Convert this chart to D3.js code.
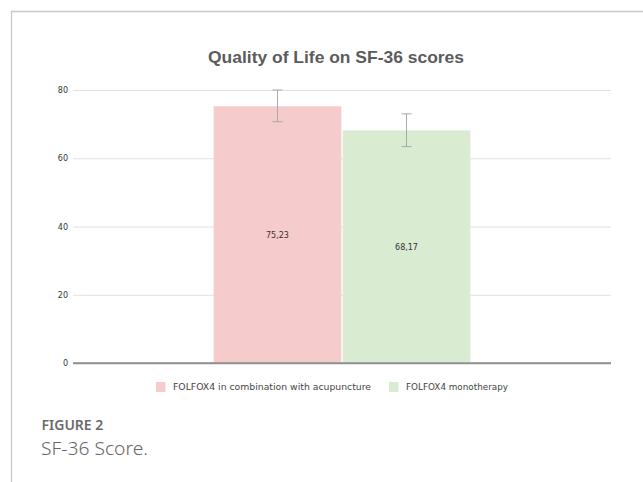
<!DOCTYPE html>
<html>
<head>
<meta charset="utf-8">
<script src="https://cdn.jsdelivr.net/npm/d3@7"></script>
<style>
  body { margin: 0; background: #fff; }
  svg { display: block; }
</style>
</head>
<body>
<svg></svg>
<script>
let width = 643, height = 482;

// chart data
let series = ["FOLFOX4 in combination with acupuncture", "FOLFOX4 monotherapy"];
let means = [75.23, 68.17];
let errLow = [70.7, 63.4];
let errHigh = [80.0, 73.0];
let yTicks = [0, 20, 40, 60, 80];
let colors = ["#f6cbcc", "#d9ecd2"];

let svg = d3.select("svg")
    .attr("width", width)
    .attr("height", height);

// frame of the figure panel
svg.append("path")
    .attr("d", "M11.5," + height + "V11.5H" + width)
    .attr("fill", "none")
    .attr("stroke", "#c8c8c8")
    .attr("stroke-width", 1.3);

let y = d3.scaleLinear()
    .domain([0, 80])
    .range([363, 90]);

let x = d3.scaleBand()
    .domain(series)
    .range([73, 611])
    .paddingInner(0.01)
    .paddingOuter(1.09);

let comma = d3.formatLocale({ decimal: ",", thousands: ".", grouping: [3], currency: ["", ""] }).format(".2f");

// title
svg.append("text")
    .attr("x", 336)
    .attr("y", 62.5)
    .attr("text-anchor", "middle")
    .attr("textLength", 256)
    .attr("lengthAdjust", "spacingAndGlyphs")
    .style("font-family", "'Liberation Sans', Arial, sans-serif")
    .style("font-weight", "bold")
    .style("font-size", "17px")
    .style("fill", "#5b5b5b")
    .text("Quality of Life on SF-36 scores");

// gridlines
let yAxis = svg.append("g")
    .attr("transform", "translate(73,0)")
    .call(d3.axisLeft(y).tickValues(yTicks).tickSize(-538).tickFormat(d3.format("d")));

yAxis.select(".domain").remove();
yAxis.selectAll(".tick line")
    .attr("stroke", d => d == 0 ? "#909090" : "#e0e0e0")
    .attr("stroke-width", d => d == 0 ? 1.3 : 1);
yAxis.selectAll(".tick text")
    .attr("x", -5)
    .style("font-family", "'DejaVu Sans', sans-serif")
    .style("font-size", "8px")
    .style("fill", "#333");

// bars
svg.append("g")
    .selectAll("rect")
    .data(series)
    .enter()
    .append("rect")
    .attr("x", d => x(d))
    .attr("y", (d, i) => y(means[i]))
    .attr("width", x.bandwidth())
    .attr("height", (d, i) => y(0) - y(means[i]))
    .attr("fill", (d, i) => colors[i]);

// redraw baseline over bars
svg.append("line")
    .attr("x1", 73).attr("x2", 611)
    .attr("y1", y(0)).attr("y2", y(0))
    .attr("stroke", "#909090")
    .attr("stroke-width", 1.3);

// error bars
let err = svg.append("g")
    .attr("stroke", "#a8a8a8")
    .attr("stroke-width", 1);

series.forEach((s, i) => {
    let cx = x(s) + x.bandwidth() / 2;
    err.append("line")
        .attr("x1", cx).attr("x2", cx)
        .attr("y1", y(errLow[i])).attr("y2", y(errHigh[i]));
    [errLow[i], errHigh[i]].forEach(v => {
        err.append("line")
            .attr("x1", cx - 5).attr("x2", cx + 5)
            .attr("y1", y(v)).attr("y2", y(v));
    });
});

// value labels
svg.append("g")
    .selectAll("text")
    .data(series)
    .enter()
    .append("text")
    .attr("x", d => x(d) + x.bandwidth() / 2)
    .attr("y", (d, i) => (y(means[i]) + y(0)) / 2 + 3)
    .attr("text-anchor", "middle")
    .style("font-family", "'DejaVu Sans', sans-serif")
    .style("font-size", "8px")
    .style("fill", "#333")
    .text((d, i) => comma(means[i]));

// legend
let legendX = [156, 389];
let legendW = [198, 102];
let legend = svg.append("g")
    .selectAll("g")
    .data(series)
    .enter()
    .append("g")
    .attr("transform", (d, i) => "translate(" + legendX[i] + ",382)");

legend.append("rect")
    .attr("width", 9.5)
    .attr("height", 10)
    .attr("fill", (d, i) => colors[i]);

legend.append("text")
    .attr("x", 17)
    .attr("y", 8)
    .attr("textLength", (d, i) => legendW[i])
    .attr("lengthAdjust", "spacingAndGlyphs")
    .style("font-family", "'DejaVu Sans', sans-serif")
    .style("font-size", "8px")
    .style("fill", "#444")
    .text(d => d);

// caption
svg.append("text")
    .attr("x", 41.5)
    .attr("y", 430)
    .style("font-family", "'Noto Sans', sans-serif")
    .style("font-weight", "600")
    .style("font-size", "14px")
    .style("fill", "#6a6a6a")
    .text("FIGURE 2");

svg.append("text")
    .attr("x", 41)
    .attr("y", 455)
    .attr("textLength", 107)
    .attr("lengthAdjust", "spacingAndGlyphs")
    .style("font-family", "'Noto Sans', sans-serif")
    .style("font-weight", "300")
    .style("font-size", "19px")
    .style("fill", "#666")
    .text("SF-36 Score.");
</script>
</body>
</html>
